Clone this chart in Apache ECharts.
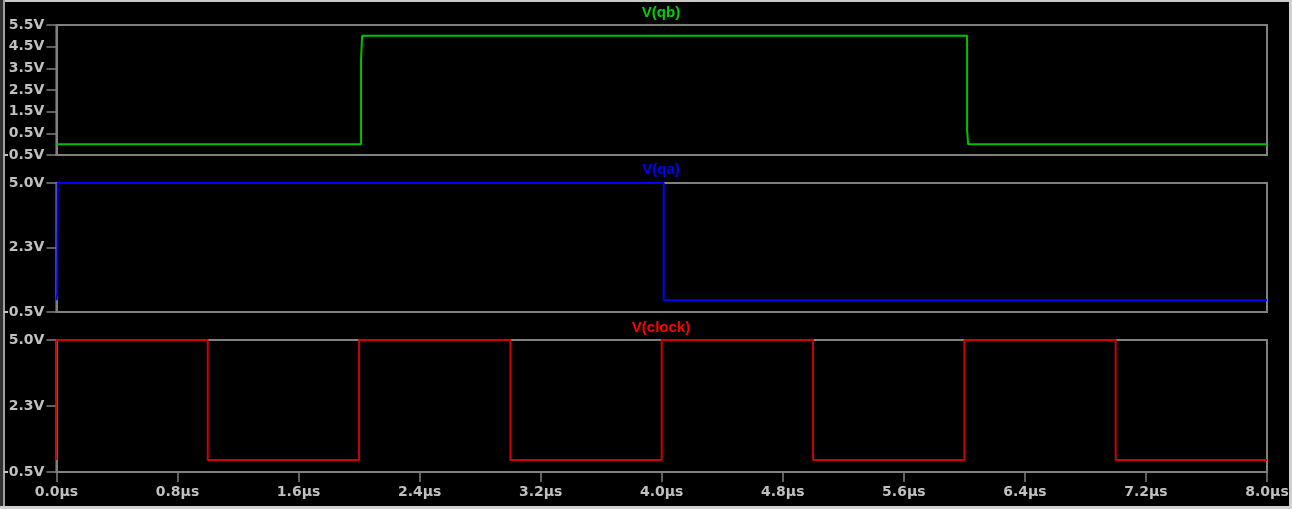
<!DOCTYPE html>
<html>
<head>
<meta charset="utf-8">
<style>
html,body{margin:0;padding:0;background:#000;}
#c{width:1292px;height:509px;}
</style>
<script src="https://cdn.jsdelivr.net/npm/echarts@6/dist/echarts.min.js"></script>
</head>
<body>
<div id="c"></div>
<script>
// Time axis ticks (µs)
const timeMin = 0, timeMax = 8, timeStep = 0.8;

// V(qb)
const qbTime  = [0, 2.013, 2.013, 2.02, 2.02, 6.018, 6.018, 6.025, 6.025, 8];
const qbVolts = [0, 0, 3.9, 3.9, 5.0, 5.0, 0.65, 0.65, 0, 0];

// V(qa)
const qaTime  = [0, 0.005, 0.008, 0.008, 4.013, 4.013, 8];
const qaVolts = [0, 0.3, 0.3, 5.0, 5.0, 0, 0];

// V(clock)
const clkTime  = [0, 0, 1, 1, 2, 2, 3, 3, 4, 4, 5, 5, 6, 6, 7, 7, 8];
const clkVolts = [0, 5, 5, 0, 0, 5, 5, 0, 0, 5, 5, 0, 0, 5, 5, 0, 0];

// Y axis ranges
const qbAxis  = {min: -0.5, max: 5.5, step: 1};
const qaAxis  = {min: -0.5, max: 5.0, step: 2.75};
const clkAxis = {min: -0.5, max: 5.0, step: 2.75};

const titles = ['V(qb)', 'V(qa)', 'V(clock)'];

function pts(t, v){ return t.map((x,i)=>[x, v[i]]); }

const GRAY = '#808080';
const LABEL = '#c0c0c0';
const FONT = 'DejaVu Sans';

const grids = [
  {left:55, right:25, top:25, height:130},
  {left:55, right:25, top:183, height:129},
  {left:55, right:25, top:340, height:132}
].map(g=>Object.assign(g,{show:true, borderColor:GRAY, borderWidth:2, backgroundColor:'#000'}));

function xAx(i, showLabels){
  return {
    type:'value', gridIndex:i, min:timeMin, max:timeMax, interval:timeStep,
    axisLine:{show:true, onZero:false, lineStyle:{color:GRAY, width:2}},
    axisTick:{show:showLabels, inside:false, length:10, lineStyle:{color:GRAY, width:1.5}},
    axisLabel:{show:showLabels, color:LABEL, fontFamily:FONT, fontWeight:'bold', fontSize:14, margin:13,
      formatter:v=>v.toFixed(1)+'µs'},
    splitLine:{show:false}
  };
}
function yAx(i, a){
  return {
    type:'value', gridIndex:i, min:a.min, max:a.max, interval:a.step,
    axisLine:{show:true, onZero:false, lineStyle:{color:GRAY, width:2}},
    axisTick:{show:true, length:10, lineStyle:{color:GRAY, width:1.5}},
    axisLabel:{color:LABEL, fontFamily:FONT, fontWeight:'bold', fontSize:14, margin:12,
      formatter:v=>v.toFixed(1)+'V'},
    splitLine:{show:false}
  };
}
function ser(i, data, color){
  return {type:'line', xAxisIndex:i, yAxisIndex:i, data:data, showSymbol:false, symbol:'none',
    clip:false, lineStyle:{color:color, width:2}, animation:false, z:5};
}

const titleColors = ['#00d000', '#0000ff', '#ff0000'];
const titleTops = [5, 162, 320];

const chart = echarts.init(document.getElementById('c'), null, {renderer:'canvas'});
chart.setOption({
  backgroundColor:'#000',
  animation:false,
  title: titles.map((t,i)=>({text:t, left:661, top:titleTops[i], textAlign:'center', padding:0,
    textStyle:{color:titleColors[i], fontFamily:'Liberation Sans', fontWeight:'bold', fontSize:15}})),
  grid: grids,
  xAxis:[xAx(0,false), xAx(1,false), xAx(2,true)],
  yAxis:[yAx(0,qbAxis), yAx(1,qaAxis), yAx(2,clkAxis)],
  series:[
    ser(0, pts(qbTime, qbVolts), '#00c000'),
    ser(1, pts(qaTime, qaVolts), '#0000ff'),
    ser(2, pts(clkTime, clkVolts), '#d00000')
  ],
  graphic:[
    {type:'rect', shape:{x:0,y:0,width:1292,height:2}, style:{fill:'#c8c8c8'}, silent:true},
    {type:'rect', shape:{x:0,y:0,width:3,height:509}, style:{fill:'#303030'}, silent:true},
    {type:'rect', shape:{x:3,y:0,width:2,height:509}, style:{fill:'#a0a0a0'}, silent:true},
    {type:'rect', shape:{x:1289,y:0,width:3,height:509}, style:{fill:'#d0d0d0'}, silent:true},
    {type:'rect', shape:{x:0,y:506,width:1292,height:3}, style:{fill:'#d0d0d0'}, silent:true}
  ]
});
</script>
</body>
</html>
